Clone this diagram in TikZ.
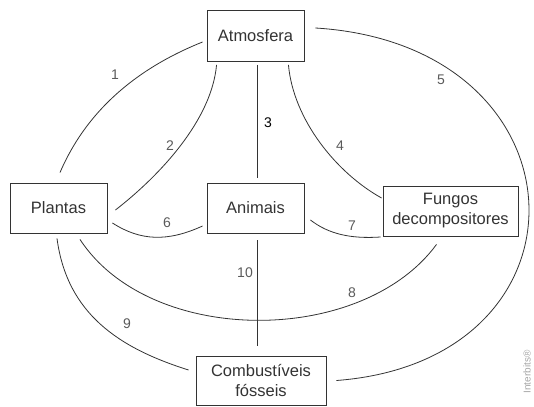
\documentclass[tikz,border=0pt]{standalone}
\usepackage{fontspec}
\setmainfont{Liberation Sans}
\usepackage{tikz}
\usetikzlibrary{positioning}

\definecolor{linegray}{HTML}{333333}
\definecolor{numgray}{HTML}{5A5A5A}

\tikzset{
    box/.style={draw=linegray, line width=0.9pt, text=linegray, inner sep=0pt,
        align=center, font=\fontsize{16.5}{20}\selectfont},
    conn/.style={draw=linegray, line width=0.8pt},
    num/.style={text=numgray, font=\fontsize{14}{16}\selectfont}
}

\begin{document}
\begin{tikzpicture}[x=1pt,y=-1pt]
        \useasboundingbox (0,0) rectangle (534,406);

        \node[box, minimum width=97pt, minimum height=51pt] (atm) at (255.5,36) {Atmosfera};
        \node[box, minimum width=97pt, minimum height=50pt] (pla) at (58.5,208) {Plantas};
        \node[box, minimum width=97pt, minimum height=50pt] (ani) at (255.5,208) {Animais};
        \node[box, minimum width=135pt, minimum height=50pt] (fun) at (450.5,211) {Fungos\\decompositores};
        \node[box, minimum width=130pt, minimum height=49pt] (com) at (261,380.5) {Combust\'iveis\\f\'osseis};

        % ligacoes com a atmosfera
        \draw[conn] ([shift={(1.5,-10)}]pla.north) .. controls +(30,-70) and +(-55,22) .. ([shift={(-4,6)}]atm.west);
        \draw[conn] ([shift={(10,3)}]atm.south west) .. controls +(-5,55) and +(45,-35) .. ([shift={(8,2)}]pla.east);
        \draw[conn] ([shift={(1.5,3)}]atm.south) -- ([shift={(1.5,-5)}]ani.north);
        \draw[conn] ([shift={(-16,3)}]atm.south east) .. controls +(5,55) and +(-45,-25) .. ([shift={(-1,-13)}]fun.west);
        \draw[conn] ([shift={(11,-8)}]atm.east) .. controls +(276,17) and +(265,-20) .. ([shift={(10,0)}]com.east);

        % ligacoes de baixo
        \draw[conn] ([shift={(5,15)}]pla.east) .. controls +(28,18) and +(-35,16) .. ([shift={(-4,18)}]ani.west);
        \draw[conn] ([shift={(6,12)}]ani.east) .. controls +(18,14) and +(-30,2) .. ([shift={(-2,26)}]fun.west);
        \draw[conn] ([shift={(21.5,6)}]pla.south) .. controls +(70,107) and +(-75,102) .. ([shift={(-14,8)}]fun.south);
        \draw[conn] ([shift={(-1.5,5)}]pla.south) .. controls +(10,75) and +(-70,-22) .. ([shift={(-7,-10.5)}]com.west);
        \draw[conn] ([shift={(1.5,7)}]ani.south) -- ([shift={(-4,-10)}]com.north);

        \node[num] (n1) at (115,75) {1};
        \node[num] (n2) at (170,146) {2};
        \node[num, text=black] (n3) at (268,123) {3};
        \node[num] (n4) at (340,146) {4};
        \node[num] (n5) at (441,80) {5};
        \node[num] (n6) at (167,223) {6};
        \node[num] (n7) at (352,226) {7};
        \node[num] (n8) at (352,293) {8};
        \node[num] (n9) at (127,324) {9};
        \node[num] (n10) at (245,273) {10};

        \node[rotate=90, text=gray!70, font=\fontsize{10}{11}\selectfont] (ib) at (527,372) {Interbits\textregistered};
    \end{tikzpicture}
\end{document}
